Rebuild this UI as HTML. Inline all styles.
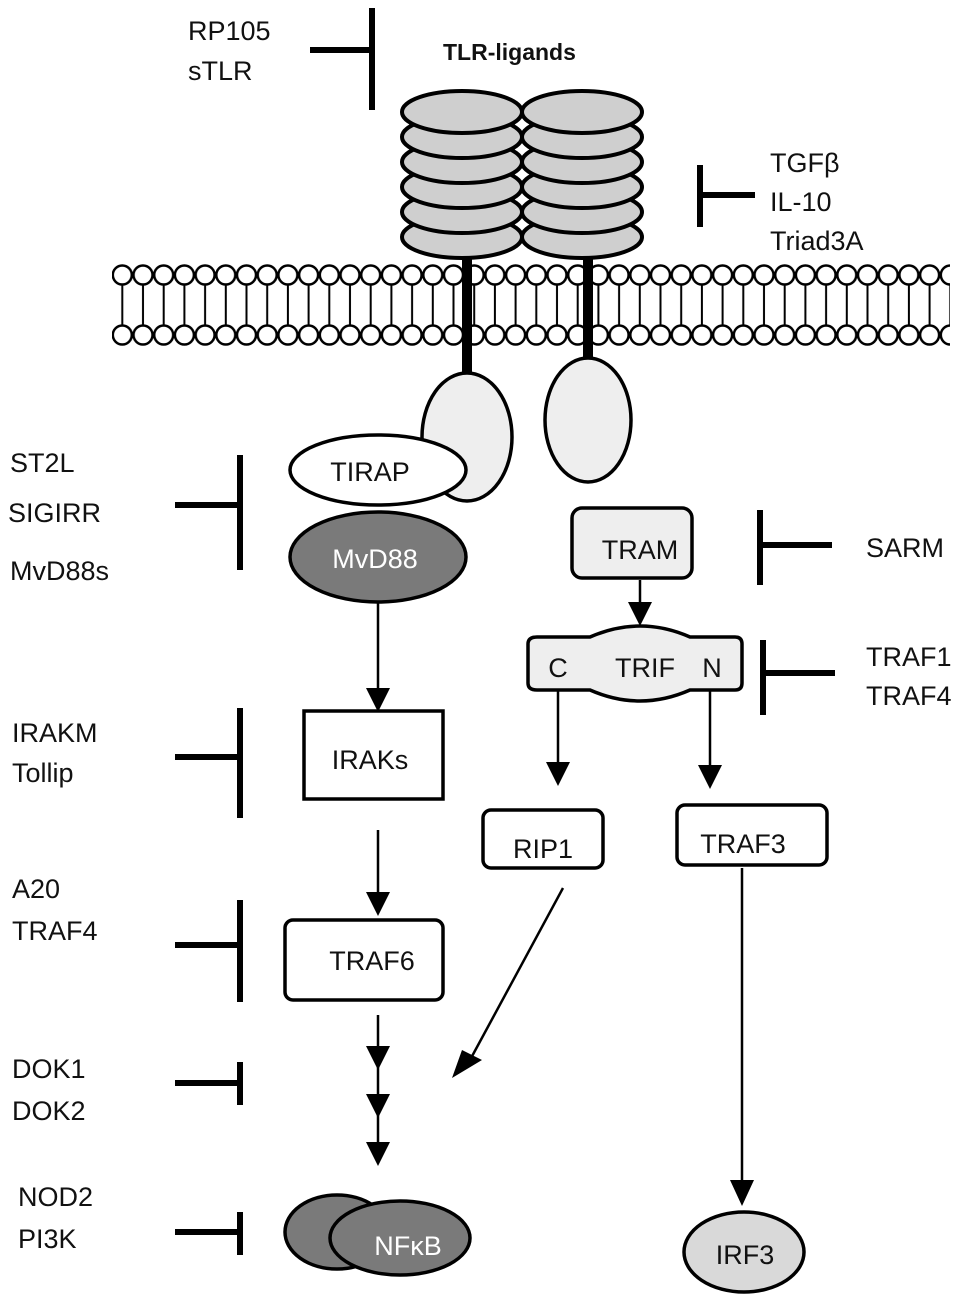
<!DOCTYPE html>
<html><head><meta charset="utf-8"><style>
html,body{margin:0;padding:0;background:#fff;}
svg{display:block;}
text{font-family:"Liberation Sans",sans-serif;font-size:27px;fill:#111;}
</style></head><body>
<svg width="957" height="1294" viewBox="0 0 957 1294" xmlns="http://www.w3.org/2000/svg">
<defs>
<pattern id="mem" x="112" y="260" width="20.7" height="90" patternUnits="userSpaceOnUse">
<line x1="10.3" y1="24" x2="10.3" y2="66" stroke="#000" stroke-width="2"/>
<circle cx="10.3" cy="15" r="9.5" fill="#fff" stroke="#000" stroke-width="2.5"/>
<circle cx="10.3" cy="75" r="9.5" fill="#fff" stroke="#000" stroke-width="2.5"/>
</pattern>
</defs>
<rect x="112" y="260" width="838" height="90" fill="url(#mem)"/>
<line x1="467" y1="250" x2="467" y2="375" stroke="#000" stroke-width="10"/>
<line x1="588" y1="250" x2="588" y2="360" stroke="#000" stroke-width="10"/>
<g fill="#cfcfcf" stroke="#000" stroke-width="4">
<ellipse cx="462" cy="237" rx="60" ry="21"/>
<ellipse cx="462" cy="212" rx="60" ry="21"/>
<ellipse cx="462" cy="187" rx="60" ry="21"/>
<ellipse cx="462" cy="162" rx="60" ry="21"/>
<ellipse cx="462" cy="137" rx="60" ry="21"/>
<ellipse cx="462" cy="112" rx="60" ry="21"/>
<ellipse cx="582" cy="237" rx="60" ry="21"/>
<ellipse cx="582" cy="212" rx="60" ry="21"/>
<ellipse cx="582" cy="187" rx="60" ry="21"/>
<ellipse cx="582" cy="162" rx="60" ry="21"/>
<ellipse cx="582" cy="137" rx="60" ry="21"/>
<ellipse cx="582" cy="112" rx="60" ry="21"/>
</g>
<g stroke="#000" stroke-width="3.5">
<ellipse cx="467" cy="437" rx="45" ry="64" fill="#eee"/>
<ellipse cx="588" cy="420" rx="43" ry="62" fill="#eee"/>
<ellipse cx="378" cy="470" rx="88" ry="35" fill="#fff"/>
<ellipse cx="378" cy="557" rx="88" ry="45" fill="#7a7a7a"/>
<rect x="572" y="508" width="120" height="70" rx="10" fill="#eee"/>
<path d="M537,637 H590 Q640,615 690,637 H735 Q742,637 742,644 V683 Q742,690 735,690 H690 Q640,712 590,690 H537 Q528,690 528,683 V644 Q528,637 537,637Z" fill="#eee"/>
<rect x="304" y="711" width="139" height="88" fill="#fff"/>
<rect x="285" y="920" width="158" height="80" rx="8" fill="#fff"/>
<rect x="483" y="810" width="120" height="58" rx="8" fill="#fff"/>
<rect x="677" y="805" width="150" height="60" rx="8" fill="#fff"/>
<ellipse cx="337" cy="1232" rx="52" ry="37" fill="#7a7a7a"/>
<ellipse cx="400" cy="1238" rx="70" ry="37" fill="#7a7a7a"/>
<ellipse cx="744" cy="1252" rx="60" ry="40" fill="#d9d9d9"/>
</g>
<g stroke="#000" stroke-width="2.5">
<line x1="378" y1="602" x2="378" y2="690"/>
<line x1="378" y1="830" x2="378" y2="895"/>
<line x1="378" y1="1015" x2="378" y2="1050"/>
<line x1="378" y1="1060" x2="378" y2="1098"/>
<line x1="378" y1="1110" x2="378" y2="1148"/>
<line x1="640" y1="580" x2="640" y2="605"/>
<line x1="558" y1="690" x2="558" y2="765"/>
<line x1="710" y1="690" x2="710" y2="768"/>
<line x1="742" y1="868" x2="742" y2="1185"/>
<line x1="563" y1="888" x2="470" y2="1060"/>
</g>
<g fill="#000">
<polygon points="366,688 390,688 378,712"/>
<polygon points="366,892 390,892 378,916"/>
<polygon points="366,1046 390,1046 378,1070"/>
<polygon points="366,1094 390,1094 378,1118"/>
<polygon points="366,1142 390,1142 378,1166"/>
<polygon points="628,602 652,602 640,626"/>
<polygon points="546,762 570,762 558,786"/>
<polygon points="698,765 722,765 710,789"/>
<polygon points="730,1180 754,1180 742,1206"/>
<polygon points="452,1078 462,1050 482,1060"/>
</g>
<g stroke="#000" stroke-width="6">
<line x1="310" y1="50" x2="372" y2="50"/><line x1="372" y1="8" x2="372" y2="110"/>
<line x1="700" y1="195" x2="755" y2="195"/><line x1="700" y1="165" x2="700" y2="227"/>
<line x1="175" y1="505" x2="240" y2="505"/><line x1="240" y1="455" x2="240" y2="570"/>
<line x1="760" y1="545" x2="832" y2="545"/><line x1="760" y1="510" x2="760" y2="585"/>
<line x1="763" y1="673" x2="835" y2="673"/><line x1="763" y1="640" x2="763" y2="715"/>
<line x1="175" y1="757" x2="240" y2="757"/><line x1="240" y1="708" x2="240" y2="818"/>
<line x1="175" y1="945" x2="240" y2="945"/><line x1="240" y1="900" x2="240" y2="1002"/>
<line x1="175" y1="1083" x2="240" y2="1083"/><line x1="240" y1="1062" x2="240" y2="1105"/>
<line x1="175" y1="1232" x2="240" y2="1232"/><line x1="240" y1="1212" x2="240" y2="1255"/>
</g>
<text x="188" y="40">RP105</text>
<text x="188" y="80">sTLR</text>
<text x="443" y="60" style="font-weight:bold;font-size:23px">TLR-ligands</text>
<text x="770" y="172">TGFβ</text>
<text x="770" y="211">IL-10</text>
<text x="770" y="250">Triad3A</text>
<text x="10" y="472">ST2L</text>
<text x="8" y="522">SIGIRR</text>
<text x="10" y="580">MvD88s</text>
<text x="866" y="557">SARM</text>
<text x="866" y="666">TRAF1</text>
<text x="866" y="705">TRAF4</text>
<text x="12" y="742">IRAKM</text>
<text x="12" y="782">Tollip</text>
<text x="12" y="898">A20</text>
<text x="12" y="940">TRAF4</text>
<text x="12" y="1078">DOK1</text>
<text x="12" y="1120">DOK2</text>
<text x="18" y="1206">NOD2</text>
<text x="18" y="1248">PI3K</text>
<g text-anchor="middle">
<text x="370" y="481">TIRAP</text>
<text x="375" y="568" style="fill:#fff">MvD88</text>
<text x="370" y="769">IRAKs</text>
<text x="372" y="970">TRAF6</text>
<text x="640" y="559">TRAM</text>
<text x="645" y="677">TRIF</text>
<text x="558" y="677">C</text>
<text x="712" y="677">N</text>
<text x="543" y="858">RIP1</text>
<text x="743" y="853">TRAF3</text>
<text x="408" y="1255" style="fill:#fff">NFκB</text>
<text x="745" y="1264">IRF3</text>
</g>
</svg>
</body></html>
